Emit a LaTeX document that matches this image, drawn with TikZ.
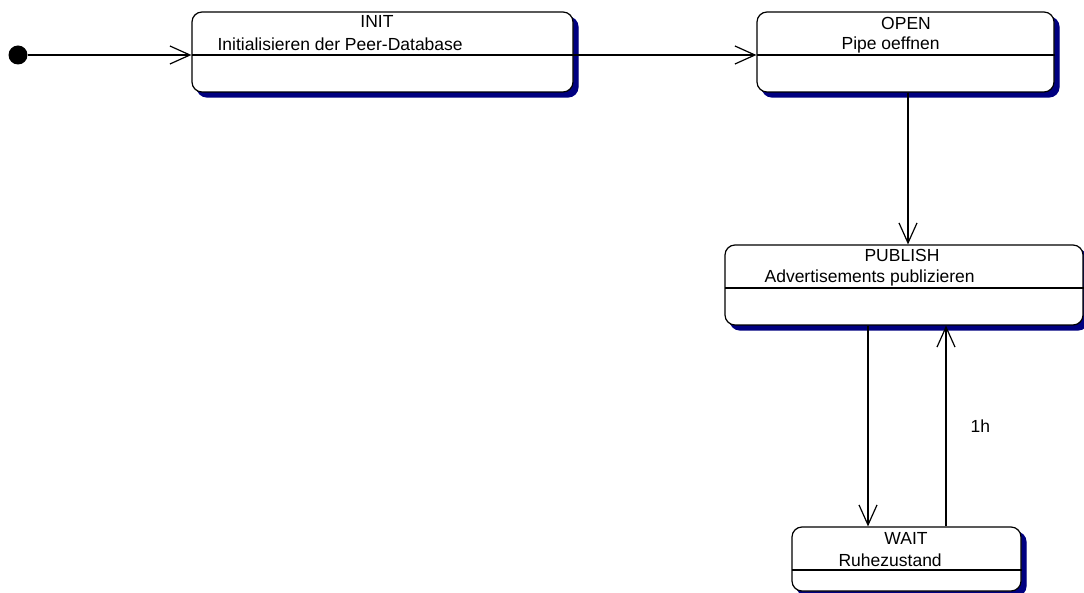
\documentclass[tikz,border=0pt]{standalone}
\usepackage{fontspec}
\setmainfont{Liberation Sans}
\usetikzlibrary{arrows.meta,shadows}
\definecolor{shadowblue}{RGB}{0,0,128}
\begin{document}
\begin{tikzpicture}[x=1pt,y=-1pt,
  line width=1.2pt,
  statebox/.style={draw=black, fill=white, rounded corners=10pt, inner sep=0pt,
    copy shadow={shadow xshift=5pt, shadow yshift=-5pt, fill=shadowblue, draw=shadowblue}},
  label/.style={inner sep=0pt, font=\fontsize{17.5}{21}\selectfont},
  arr/.style={-{Straight Barb[length=20pt,width=18pt,line width=1.2pt]}},
  startdot/.style={circle, fill=black, minimum size=19pt, inner sep=0pt}]
\useasboundingbox (0,0) rectangle (1084,593);

% initial state
\node[startdot] (start) at (18,55) {};

% states
\node[statebox, minimum width=381pt, minimum height=80pt] (init) at (382.5,52) {};
\node[statebox, minimum width=297pt, minimum height=80pt] (open) at (905.5,52) {};
\node[statebox, minimum width=358pt, minimum height=80pt] (publish) at (904,285) {};
\node[statebox, minimum width=229pt, minimum height=64pt] (wait) at (906.5,559) {};

% compartment separators
\coordinate (initsep) at (192,55);
\coordinate (opensep) at (757,55);
\coordinate (pubsep) at (725,288);
\coordinate (waitsep) at (792,570);
\draw (initsep) -- (init.east |- initsep);
\draw (opensep) -- (open.east |- opensep);
\draw (pubsep) -- (publish.east |- pubsep);
\draw (waitsep) -- (wait.east |- waitsep);

% titles and activities
\node[label] (initname) at (377,21) {INIT};
\node[label, anchor=west] (initdo) at (217,44) {Initialisieren der Peer-Database};
\node[label] (openname) at (906,23) {OPEN};
\node[label, anchor=west] (opendo) at (841,44.5) {Pipe oeffnen};
\node[label] (pubname) at (902,255) {PUBLISH};
\node[label, anchor=west] (pubdo) at (764,277.5) {Advertisements publizieren};
\node[label] (waitname) at (906,538) {WAIT};
\node[label, anchor=west] (waitdo) at (838,560.5) {Ruhezustand};

% transitions
\draw[arr] (start) -- (init.west |- start);
\draw[arr] (init.east |- initsep) -- (open.west |- opensep);
\draw[arr] ([xshift=2.5pt]open.south) -- ([xshift=2.5pt]open.south |- publish.north);
\coordinate (pubdown) at ([xshift=-36pt]publish.south);
\coordinate (pubup) at ([xshift=42pt]publish.south);
\draw[arr] (pubdown) -- (pubdown |- wait.north);
\draw[arr] (pubup |- wait.north) -- node[label, right=24pt] (onehour) {1h} (pubup);
\end{tikzpicture}
\end{document}
